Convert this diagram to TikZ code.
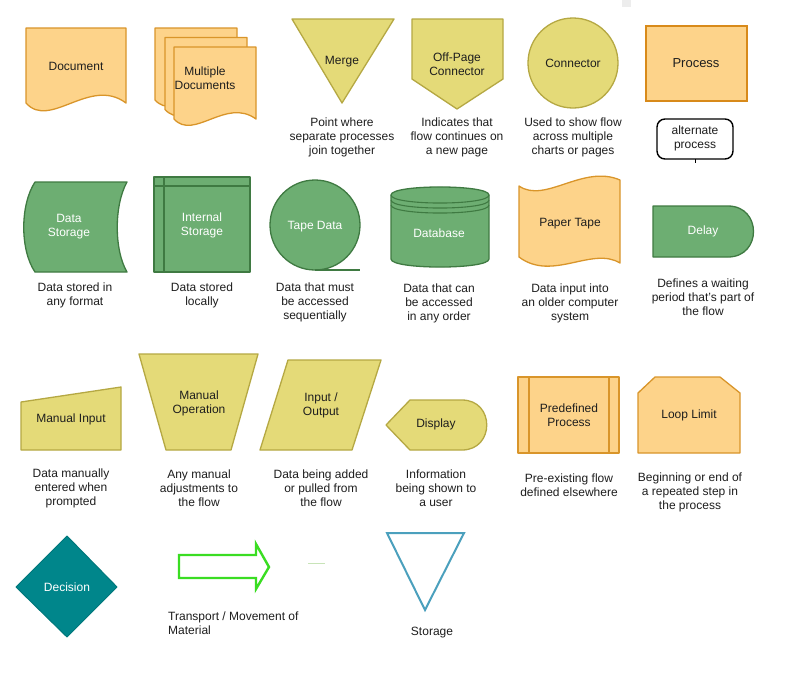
\documentclass[tikz,border=0pt]{standalone}
\usepackage{fontspec}
\setmainfont{Liberation Sans}
\begin{document}
\definecolor{orfill}{HTML}{FDD38A}
\definecolor{ordraw}{HTML}{D9952A}
\definecolor{prdraw}{HTML}{D88A1A}
\definecolor{yefill}{HTML}{E4DA78}
\definecolor{yedraw}{HTML}{B5A843}
\definecolor{grfill}{HTML}{6DAE72}
\definecolor{grdraw}{HTML}{3F7A42}
\definecolor{decfill}{HTML}{00868B}
\definecolor{decdraw}{HTML}{00777B}
\definecolor{stor}{HTML}{4BA0BD}
\definecolor{arrowgreen}{HTML}{3ADD22}
\definecolor{faintgreen}{HTML}{C8E4B8}
\definecolor{txt}{HTML}{1E1E1E}
\begin{tikzpicture}[x=1pt,y=-1pt,
  orshape/.style={fill=orfill,draw=ordraw,line width=1.3pt,line join=round},
  yeshape/.style={fill=yefill,draw=yedraw,line width=1.3pt,line join=round},
  grshape/.style={fill=grfill,draw=grdraw,line width=1.3pt,line join=round},
  lbl/.style={inner sep=0pt,align=center,text=txt,font=\fontsize{12}{14}\selectfont},
  wlbl/.style={lbl,text=white},
  captxt/.style={inner sep=0pt,align=center,text=txt,font=\fontsize{12}{14}\selectfont}]
\useasboundingbox (0,0) rectangle (786,678);
\fill[white] (0,0) rectangle (786,678);
\fill[black!7] (622,0) rectangle (631,7);

% ---------- Row 1 ----------
% Document
\filldraw[orshape] (26,28) -- (126,28) -- (126,103) .. controls (90,76) and (50,130) .. (26,103) -- cycle;
\node[lbl] (doc) at (76,66) {Document};
% Multiple documents
\foreach \dx/\dy in {155/28,165/37.5,174/47}{
  \filldraw[orshape] (\dx,\dy) -- ({\dx+82},\dy) -- ({\dx+82},{\dy+72}) .. controls ({\dx+52},{\dy+50}) and ({\dx+20},{\dy+94}) .. (\dx,{\dy+72}) -- cycle;
}
\node[lbl] (mdoc) at (205,78) {Multiple\\Documents};
% Merge
\filldraw[yeshape] (292,19) -- (394,19) -- (342,103) -- cycle;
\node[lbl] (merge) at (342,62) {Merge};
\node[captxt] (mergecap) at (342,137) {Point where\\separate processes\\join together};
% Off-page connector
\filldraw[yeshape] (412,19) -- (503,19) -- (503,79) -- (457,109) -- (412,79) -- cycle;
\node[lbl] (offp) at (457,64) {Off-Page\\Connector};
\node[captxt] (offpcap) at (457,137) {Indicates that\\flow continues on\\a new page};
% Connector
\filldraw[yeshape] (573,63) circle[radius=45];
\node[lbl] (conn) at (573,63) {Connector};
\node[captxt] (conncap) at (573,137) {Used to show flow\\across multiple\\charts or pages};
% Process
\filldraw[fill=orfill,draw=prdraw,line width=1.8pt] (646,26) rectangle (747,101);
\node[lbl,font=\fontsize{13}{15}\selectfont] (proc) at (696,63) {Process};
% Alternate process
\draw[black,line width=1.4pt,rounded corners=8pt] (657,119) rectangle (733,159);
\node[lbl] (alt) at (695,138.5) {alternate\\process};
\coordinate (alttop) at (695,159);
\coordinate (alttick) at (695,163);
\draw[black,line width=1pt] (alttop) -- (alttick);

% ---------- Row 2 ----------
% Data storage
\filldraw[grshape] (35,182) -- (127,182) .. controls (114,205) and (114,250) .. (127,272) -- (35,272) .. controls (20,250) and (20,205) .. (35,182) -- cycle;
\node[wlbl] (dstor) at (69,227) {Data\\Storage};
\node[captxt] (dstorcap) at (75,295.5) {Data stored in\\any format};
% Internal storage
\filldraw[grshape] (154,177) rectangle (250,272);
\draw[grdraw,line width=1.3pt] (164,177) -- (164,272) (154,186) -- (250,186);
\node[wlbl] (istor) at (202,225) {Internal\\Storage};
\node[captxt] (istorcap) at (202,295.5) {Data stored\\locally};
% Tape data
\filldraw[grshape] (315,225) circle[radius=45];
\draw[grdraw,line width=1.3pt] (315,270) -- (360,270);
\node[wlbl] (tape) at (315,227) {Tape Data};
\node[captxt] (tapecap) at (315,302.5) {Data that must\\be accessed\\sequentially};
% Database
\filldraw[grshape] (391,195) -- (391,259) .. controls (391,269.7) and (489,269.7) .. (489,259) -- (489,195) .. controls (489,184.3) and (391,184.3) .. cycle;
\draw[grdraw,line width=1.1pt] (391,195) .. controls (391,205.7) and (489,205.7) .. (489,195)
  (391,200) .. controls (391,210.7) and (489,210.7) .. (489,200)
  (391,205) .. controls (391,215.7) and (489,215.7) .. (489,205);
\node[wlbl] (db) at (439,233.5) {Database};
\node[captxt] (dbcap) at (439,303) {Data that can\\be accessed\\in any order};
% Paper tape
\filldraw[orshape] (519,186) .. controls (545,204) and (583,164) .. (620,180) -- (620,263) .. controls (592,246) and (552,282) .. (519,257) -- cycle;
\node[lbl] (ptape) at (570,224) {Paper Tape};
\node[captxt] (ptapecap) at (570,303) {Data input into\\an older computer\\system};
% Delay
\filldraw[grshape] (653,206) -- (728,206) .. controls (762,206) and (762,257) .. (728,257) -- (653,257) -- cycle;
\node[wlbl] (delay) at (703,231.5) {Delay};
\node[captxt] (delaycap) at (703,297) {Defines a waiting\\period that's part of\\the flow};

% ---------- Row 3 ----------
% Manual input
\filldraw[yeshape] (21,402) -- (121,387) -- (121,450) -- (21,450) -- cycle;
\node[lbl] (minput) at (71,419) {Manual Input};
\node[captxt] (minputcap) at (71,488) {Data manually\\entered when\\prompted};
% Manual operation
\filldraw[yeshape] (139,354) -- (258,354) -- (231,450) -- (166,450) -- cycle;
\node[lbl] (mop) at (199,403) {Manual\\Operation};
\node[captxt] (mopcap) at (199,488) {Any manual\\adjustments to\\the flow};
% Input / Output
\filldraw[yeshape] (288,360) -- (381,360) -- (352,450) -- (260,450) -- cycle;
\node[lbl] (io) at (321,405) {Input /\\Output};
\node[captxt] (iocap) at (321,488) {Data being added\\or pulled from\\the flow};
% Display
\filldraw[yeshape] (386,425) -- (410,400) -- (462,400) .. controls (495,400) and (495,450) .. (462,450) -- (410,450) -- cycle;
\node[lbl] (disp) at (436,424.5) {Display};
\node[captxt] (dispcap) at (436,488) {Information\\being shown to\\a user};
% Predefined process
\filldraw[orshape] (518,377) rectangle (619,453);
\draw[ordraw,line width=1.3pt] (529,377) -- (529,453) (609,377) -- (609,453);
\node[lbl] (pdef) at (569,415) {Predefined\\Process};
\node[captxt] (pdefcap) at (569,485) {Pre-existing flow\\defined elsewhere};
% Loop limit
\filldraw[orshape] (638,393) -- (655,377) -- (720,377) -- (740,393) -- (740,453) -- (638,453) -- cycle;
\node[lbl] (loop) at (689,415) {Loop Limit};
\node[captxt] (loopcap) at (690,492) {Beginning or end of\\a repeated step in\\the process};

% ---------- Row 4 ----------
% Decision
\filldraw[fill=decfill,draw=decdraw,line width=1pt,line join=round] (16,587) -- (67,536) -- (117,587) -- (67,637) -- cycle;
\node[wlbl] (dec) at (67,587) {Decision};
% Transport arrow
\draw[arrowgreen,line width=2.4pt,line join=miter] (179,555) -- (256,555) -- (256,544) -- (269,567) -- (256,589) -- (256,578) -- (179,578) -- cycle;
\coordinate (fl1) at (308,563);
\coordinate (fl2) at (325,563);
\draw[faintgreen,line width=1pt] (fl1) -- (fl2);
\node[captxt,align=left,anchor=north west] (trcap) at (168,612) {Transport / Movement of\\Material};
% Storage
\draw[stor,line width=2pt,line join=miter] (387,533) -- (464,533) -- (425,610) -- cycle;
\node[captxt] (storcap) at (432,633) {Storage};
\end{tikzpicture}
\end{document}
